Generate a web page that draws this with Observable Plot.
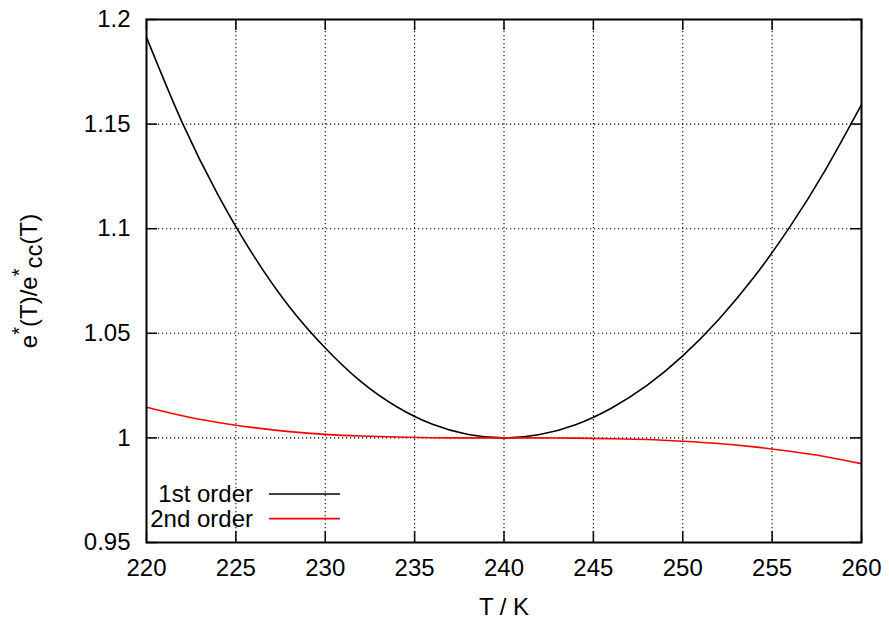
<!DOCTYPE html>
<html>
<head>
<meta charset="utf-8">
<script src="https://cdn.jsdelivr.net/npm/d3@7"></script>
<script src="https://cdn.jsdelivr.net/npm/@observablehq/plot@0.6"></script>
<style>
  html, body { margin: 0; padding: 0; background: #fff; }
  #chart { position: relative; width: 889px; height: 620px; }
</style>
</head>
<body>
<div id="chart"></div>
<script>
// Temperature (K)
const temps = [220, 222, 224, 226, 228, 230, 232, 234, 236, 238, 240,
               242, 244, 246, 248, 250, 252, 254, 256, 258, 260];
// e*(T)/e*_cc(T), 1st order approximation
const firstOrder = [1.1915, 1.1507, 1.1162, 1.0870, 1.0626, 1.0430, 1.0269, 1.0149, 1.0065, 1.0016, 1.0000,
                    1.0016, 1.0063, 1.0142, 1.0251, 1.0392, 1.0565, 1.0770, 1.1010, 1.1284, 1.1593];
// e*(T)/e*_cc(T), 2nd order approximation
const secondOrder = [1.0147, 1.0106, 1.0074, 1.0049, 1.0030, 1.0017, 1.0009, 1.0004, 1.0001, 1.0000, 1.0000,
                     1.0000, 0.9999, 0.9996, 0.9992, 0.9984, 0.9973, 0.9957, 0.9936, 0.9910, 0.9877];

const seriesNames = ["1st order", "2nd order"];
const seriesColors = ["#000000", "#ff0000"];

const xTicks = [220, 225, 230, 235, 240, 245, 250, 255, 260];
const xTickLabels = ["220", "225", "230", "235", "240", "245", "250", "255", "260"];
const yTicks = [0.95, 1, 1.05, 1.1, 1.15, 1.2];
const yTickLabels = ["0.95", "1", "1.05", "1.1", "1.15", "1.2"];

const xLabel = "T / K";

const data = [];
temps.forEach((t, i) => {
  data.push({T: t, v: firstOrder[i], s: seriesNames[0]});
});
temps.forEach((t, i) => {
  data.push({T: t, v: secondOrder[i], s: seriesNames[1]});
});

const W = 889, H = 620;
const mL = 146, mR = 28, mT = 19, mB = 78;
const plotH = H - mT - mB;
const plotW = W - mL - mR;
const tickLen = 11;
const font = "'Liberation Sans', Arial, Helvetica, sans-serif";

const gridStyle = {stroke: "#000", strokeWidth: 1.1, strokeDasharray: "1.2,2.8", strokeOpacity: 1};

const chart = Plot.plot({
  width: W,
  height: H,
  marginLeft: mL,
  marginRight: mR,
  marginTop: mT,
  marginBottom: mB,
  style: {fontSize: "24px", fontFamily: font, color: "#000", background: "#fff"},
  x: {domain: [220, 260], ticks: xTicks},
  y: {domain: [0.95, 1.2], ticks: yTicks},
  marks: [
    Plot.gridX(xTicks, {...gridStyle}),
    Plot.gridY(yTicks, {...gridStyle}),
    // inward ticks on all four sides
    Plot.tickX(xTicks, {x: d => d, insetTop: plotH - tickLen, strokeWidth: 1.5}),
    Plot.tickX(xTicks, {x: d => d, insetBottom: plotH - tickLen, strokeWidth: 1.5}),
    Plot.tickY(yTicks, {y: d => d, insetRight: plotW - tickLen, strokeWidth: 1.5}),
    Plot.tickY(yTicks, {y: d => d, insetLeft: plotW - tickLen, strokeWidth: 1.5}),
    Plot.line(data, {x: "T", y: "v", z: "s",
      stroke: d => seriesColors[seriesNames.indexOf(d.s)],
      strokeWidth: 1.6, curve: "natural"}),
    Plot.axisX(xTicks, {tickSize: 0, tickPadding: 16, label: null,
      tickFormat: (d) => xTickLabels[xTicks.indexOf(d)]}),
    Plot.axisY(yTicks, {tickSize: 0, tickPadding: 16, label: null,
      tickFormat: (d) => yTickLabels[yTicks.indexOf(d)]}),
    Plot.frame({stroke: "#000", strokeWidth: 2}),
    Plot.text([xLabel], {frameAnchor: "bottom", dy: 72, lineAnchor: "bottom", fontSize: 24})
  ]
});

document.getElementById("chart").appendChild(chart);

const svg = d3.select(chart);

// y-axis label with super/subscripts
const yl = svg.append("text")
  .attr("transform", "translate(37,281) rotate(-90)")
  .attr("text-anchor", "middle")
  .attr("font-family", font)
  .attr("font-size", 24)
  .attr("fill", "#000");
yl.append("tspan").text("e");
yl.append("tspan").attr("dy", -11).attr("font-size", 20).text("*");
yl.append("tspan").attr("dy", 11).text("(T)/e");
yl.append("tspan").attr("dy", -11).attr("font-size", 20).text("*");
yl.append("tspan").attr("dy", 16).text("cc");
yl.append("tspan").attr("dy", -5).text("(T)");

// legend
const leg = svg.append("g").attr("font-family", font).attr("font-size", 24);
seriesNames.forEach((name, i) => {
  const yBase = 502 + i * 24.6;
  leg.append("text")
    .attr("x", 253).attr("y", yBase)
    .attr("text-anchor", "end").attr("fill", "#000")
    .text(name);
  leg.append("line")
    .attr("x1", 269).attr("x2", 340)
    .attr("y1", yBase - 8).attr("y2", yBase - 8)
    .attr("stroke", seriesColors[i]).attr("stroke-width", 1.6);
});
</script>
</body>
</html>
